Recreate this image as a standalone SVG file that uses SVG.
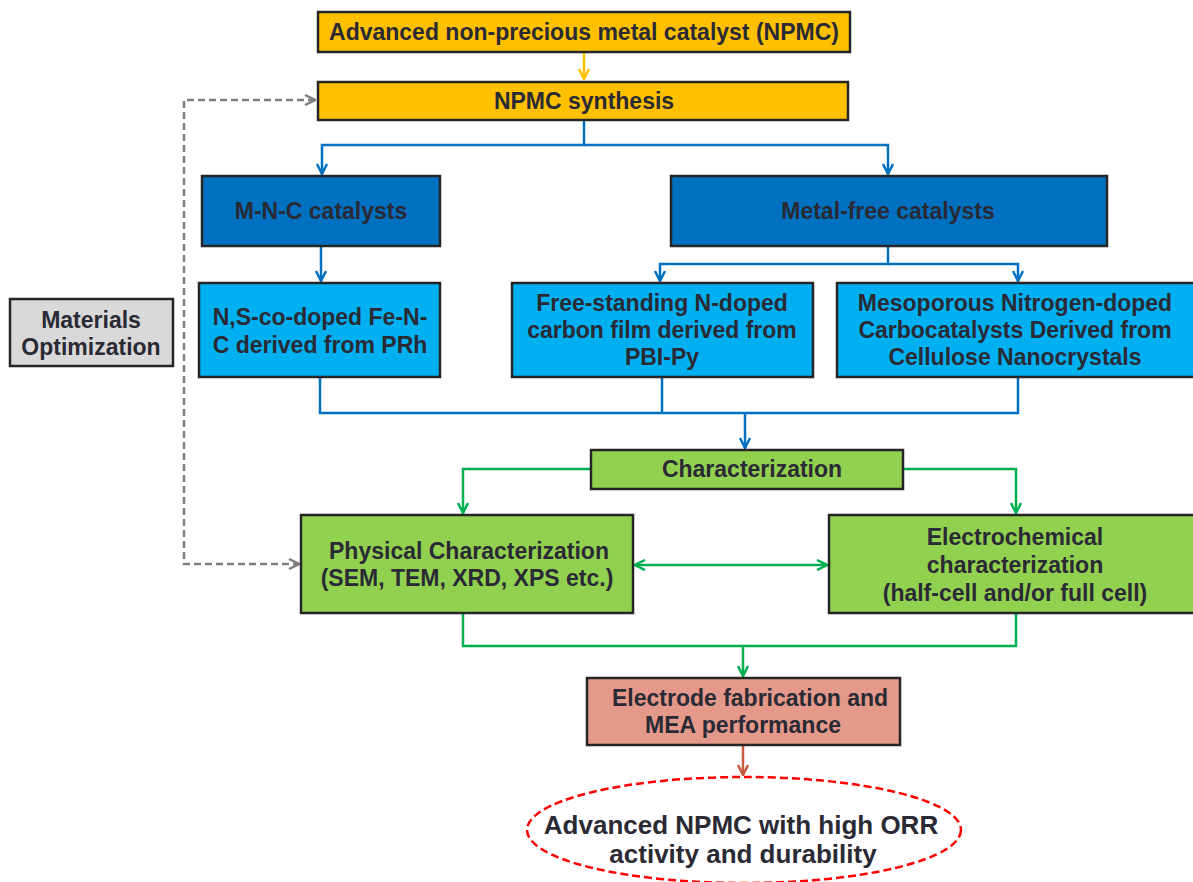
<svg xmlns="http://www.w3.org/2000/svg" width="1193" height="882" viewBox="0 0 1193 882">
<defs>
<style>
text{font-family:"Liberation Sans",Arial,sans-serif;font-weight:bold;fill:#2a2a35;text-anchor:middle}
.t{font-size:23px}
.box{stroke:#262626;stroke-width:2.5}
.y{fill:#FFC000}.db{fill:#0070C0}.lb{fill:#00B0F0}.g{fill:#92D050}.gr{fill:#D9D9D9}.r{fill:#E4998A}
.cb{fill:none;stroke:#0070C0;stroke-width:2.5}
.cg{fill:none;stroke:#00B050;stroke-width:2.5}
.cy{fill:none;stroke:#FFC000;stroke-width:2.5}
.cr{fill:none;stroke:#C55A3C;stroke-width:2.5}
.cd{fill:none;stroke:#7F7F7F;stroke-width:2.5;stroke-dasharray:7,4}
</style>
<marker id="ab" viewBox="0 0 12 12" refX="11" refY="6" markerWidth="12" markerHeight="12" markerUnits="userSpaceOnUse" orient="auto-start-reverse"><path d="M1,1 L11,6 L1,11" fill="none" stroke="#0070C0" stroke-width="2.5"/></marker>
<marker id="ag" viewBox="0 0 12 12" refX="11" refY="6" markerWidth="12" markerHeight="12" markerUnits="userSpaceOnUse" orient="auto-start-reverse"><path d="M1,1 L11,6 L1,11" fill="none" stroke="#00B050" stroke-width="2.5"/></marker>
<marker id="ay" viewBox="0 0 12 12" refX="11" refY="6" markerWidth="12" markerHeight="12" markerUnits="userSpaceOnUse" orient="auto-start-reverse"><path d="M1,1 L11,6 L1,11" fill="none" stroke="#FFC000" stroke-width="2.5"/></marker>
<marker id="ar" viewBox="0 0 12 12" refX="11" refY="6" markerWidth="12" markerHeight="12" markerUnits="userSpaceOnUse" orient="auto-start-reverse"><path d="M1,1 L11,6 L1,11" fill="none" stroke="#C55A3C" stroke-width="2.5"/></marker>
<marker id="ad" viewBox="0 0 12 12" refX="11" refY="6" markerWidth="12" markerHeight="12" markerUnits="userSpaceOnUse" orient="auto-start-reverse"><path d="M1,1 L11,6 L1,11" fill="none" stroke="#7F7F7F" stroke-width="2.5"/></marker>
</defs>
<rect width="1193" height="882" fill="#fff"/>
<g id="connectors">
<path class="cy" d="M584,52 V79" marker-end="url(#ay)"/>
<path class="cb" d="M584,120 V145 H322 V174" marker-end="url(#ab)"/>
<path class="cb" d="M584,145 H888 V174" marker-end="url(#ab)"/>
<path class="cb" d="M321,246 V281" marker-end="url(#ab)"/>
<path class="cb" d="M888,246 V264 H660 V281" marker-end="url(#ab)"/>
<path class="cb" d="M888,264 H1018 V281" marker-end="url(#ab)"/>
<path class="cb" d="M320,377 V413 H1018 V377"/>
<path class="cb" d="M662,377 V413"/>
<path class="cb" d="M745,413 V448" marker-end="url(#ab)"/>
<path class="cg" d="M591,469 H463 V513" marker-end="url(#ag)"/>
<path class="cg" d="M903,469 H1016 V513" marker-end="url(#ag)"/>
<path class="cg" d="M635,565 H827" marker-start="url(#ag)" marker-end="url(#ag)"/>
<path class="cg" d="M463,613 V646 H1016 V613"/>
<path class="cg" d="M743,646 V676" marker-end="url(#ag)"/>
<path class="cr" d="M743,745 V775" marker-end="url(#ar)"/>
<path class="cd" d="M315,100 H184 V564 H299" marker-start="url(#ad)" marker-end="url(#ad)"/>
</g>
<g id="n_top"><rect class="box y" x="318" y="12" width="532" height="40"/><text class="t" x="584" y="40">Advanced non-precious metal catalyst (NPMC)</text></g>
<g id="n_synth"><rect class="box y" x="318" y="82" width="530" height="38"/><text class="t" x="584" y="109">NPMC synthesis</text></g>
<g id="n_mnc"><rect class="box db" x="202" y="176" width="238" height="70"/><text class="t" x="321" y="219">M-N-C catalysts</text></g>
<g id="n_mf"><rect class="box db" x="671" y="176" width="436" height="70"/><text class="t" x="888" y="219">Metal-free catalysts</text></g>
<g id="n_ns"><rect class="box lb" x="199" y="283" width="241" height="94"/><text class="t" x="320" y="325">N,S-co-doped Fe-N-</text><text class="t" x="320" y="353">C derived from PRh</text></g>
<g id="n_fs"><rect class="box lb" x="512" y="283" width="301" height="94"/><text class="t" x="662" y="311">Free-standing N-doped</text><text class="t" x="662" y="338">carbon film derived from</text><text class="t" x="662" y="365">PBI-Py</text></g>
<g id="n_meso"><rect class="box lb" x="837" y="283" width="358" height="94"/><text class="t" x="1015" y="311">Mesoporous Nitrogen-doped</text><text class="t" x="1015" y="338">Carbocatalysts Derived from</text><text class="t" x="1015" y="365">Cellulose Nanocrystals</text></g>
<g id="n_mat"><rect class="box gr" x="10" y="299" width="163" height="67"/><text class="t" x="91" y="328">Materials</text><text class="t" x="91" y="355">Optimization</text></g>
<g id="n_char"><rect class="box g" x="591" y="450" width="312" height="39"/><text class="t" x="752" y="477">Characterization</text></g>
<g id="n_phys"><rect class="box g" x="301" y="515" width="332" height="98"/><text class="t" x="469" y="559">Physical Characterization</text><text class="t" x="467" y="586">(SEM, TEM, XRD, XPS etc.)</text></g>
<g id="n_elec"><rect class="box g" x="829" y="515" width="366" height="98"/><text class="t" x="1015" y="545">Electrochemical</text><text class="t" x="1015" y="573">characterization</text><text class="t" x="1015" y="601">(half-cell and/or full cell)</text></g>
<g id="n_mea"><rect class="box r" x="587" y="678" width="313" height="67"/><text class="t" x="750" y="706">Electrode fabrication and</text><text class="t" x="743" y="733">MEA performance</text></g>
<g id="n_final"><ellipse cx="744" cy="830" rx="217" ry="53" fill="#fff" stroke="#FF0000" stroke-width="2.5" stroke-dasharray="8,4"/><text x="741" y="834" font-size="26">Advanced NPMC with high ORR</text><text x="743" y="863" font-size="26">activity and durability</text></g>
</svg>
